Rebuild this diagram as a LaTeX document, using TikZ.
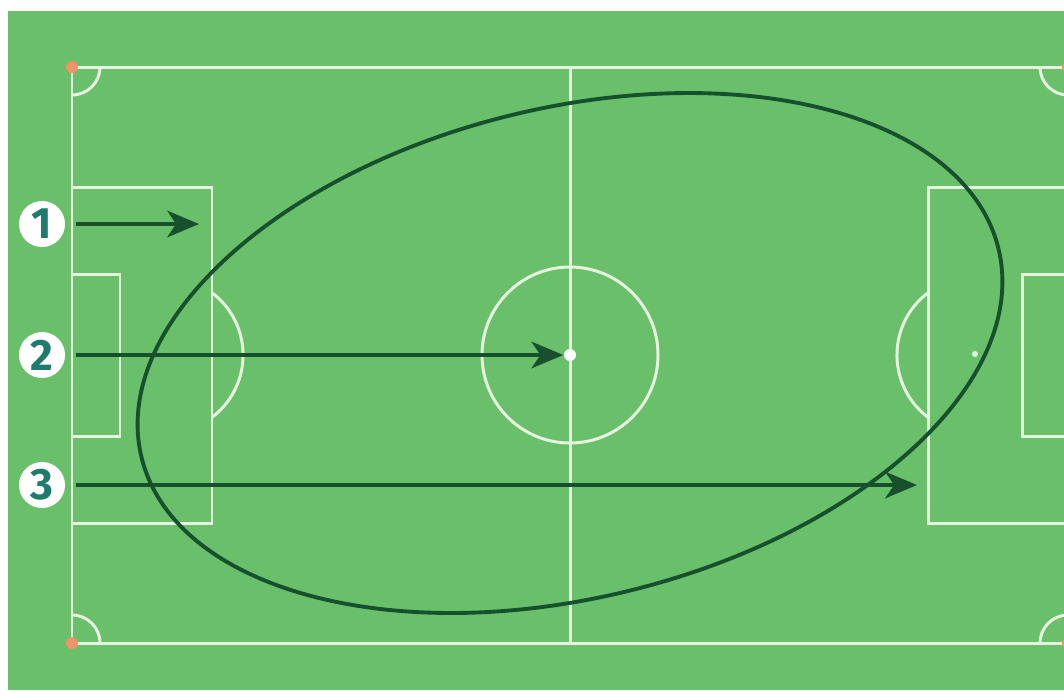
\documentclass[tikz,border=0pt]{standalone}
\usepackage{fontspec}
\newfontfamily\numfont{Fira Sans}
\usetikzlibrary{arrows.meta}
\definecolor{pitch}{HTML}{6ABF6B}
\definecolor{chalk}{HTML}{E6F4DF}
\definecolor{ink}{HTML}{17502D}
\definecolor{numteal}{HTML}{1F7C6C}
\definecolor{flag}{HTML}{EE9468}
\begin{document}
\begin{tikzpicture}[x=0.01cm, y=-0.01cm,
    chalk line/.style={draw=chalk, line width=0.85pt},
    run arrow/.style={draw=ink, line width=1.4pt, shorten <=0.1cm,
      -{Stealth[length=9pt, width=7.5pt, inset=2.5pt]}},
    number/.style={circle, fill=white, minimum size=0.46cm, inner sep=0pt,
      text=numteal, font=\numfont\bfseries\fontsize{12.5}{12.5}\selectfont}]

        \useasboundingbox (0,0) rectangle (1064,690);
        \clip (0,0) rectangle (1064,690);

        % Paper and grass
        \fill[white] (0,0) rectangle (1064,690);
        \fill[pitch] (8,11) rectangle (1064,690);

        % Touchlines, goal lines and halfway line
        \draw[chalk line] (72,67) rectangle (1068,643);
        \draw[chalk line] (570,67) -- (570,643);
        \draw[chalk line] (570,355) circle[radius=88];

        % Corner arcs
        \draw[chalk line] (100,67) arc[start angle=0, end angle=90, radius=28];
        \draw[chalk line] (72,615) arc[start angle=270, end angle=360, radius=28];
        \draw[chalk line] (1040,67) arc[start angle=180, end angle=90, radius=28];
        \draw[chalk line] (1040,643) arc[start angle=180, end angle=270, radius=28];

        % Left end
        \draw[chalk line] (72,187) rectangle (212,523);
        \draw[chalk line] (72,274) rectangle (120,436);
        \draw[chalk line] (212,292.7) arc[start angle=-53, end angle=53, radius=78];

        % Right end
        \draw[chalk line] (1068,187) rectangle (928,523);
        \draw[chalk line] (1068,274) rectangle (1022,436);
        \draw[chalk line] (928,417.3) arc[start angle=127, end angle=233, radius=78];
        \fill[chalk] (975,354) circle[radius=3];

        % Corner flags
        \fill[flag] (72,67) circle[radius=6];
        \fill[flag] (72,643) circle[radius=6];
        \fill[flag] (1068,67) circle[radius=6];
        \fill[flag] (1068,643) circle[radius=6];

        % Zone
        \draw[ink, line width=1.1pt, rotate around={13.7:(570,353)}]
            (570,353) ellipse[x radius=441, y radius=245];

        % Numbered runs
        \node[number] (n1) at (42,224) {1};
        \node[number] (n2) at (42,355) {2};
        \node[number] (n3) at (42,485) {3};
        \node[circle, fill=white, inner sep=0pt, minimum size=0.12cm] (spot) at (570,355) {};
        \coordinate (t1) at (199,224);
        \coordinate (t3) at (917,485);

        \draw[run arrow] (n1.east) -- (t1);
        \draw[run arrow] (n2.east) -- (spot.west);
        \draw[run arrow] (n3.east) -- (t3);

    \end{tikzpicture}
\end{document}
